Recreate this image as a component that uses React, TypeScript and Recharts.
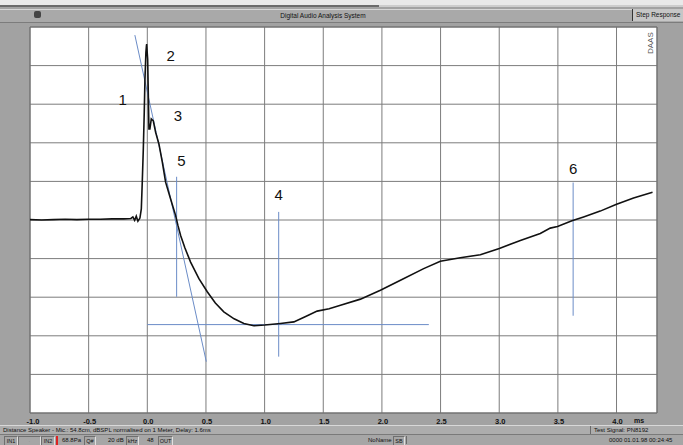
import React from 'react';
import {
  LineChart,
  Line,
  XAxis,
  YAxis,
  CartesianGrid,
  ReferenceLine,
  ReferenceArea,
  Scatter,
} from 'recharts';

// step response, time in ms vs level (grid divisions)
const timeMs = [
  -1.0, -0.9, -0.8, -0.7, -0.6, -0.5, -0.4, -0.3, -0.2, -0.14,
  -0.123, -0.108, -0.094, -0.08, -0.063,
  -0.051, -0.043, -0.034, -0.026, -0.02, -0.012, -0.006,
  0.003, 0.014, 0.022, 0.034, 0.051, 0.071, 0.099, 0.128, 0.156, 0.198, 0.241, 0.261, 0.284,
  0.32, 0.369, 0.44, 0.511, 0.58, 0.652, 0.74, 0.823, 0.908, 1.0, 1.135, 1.249, 1.35, 1.448,
  1.55, 1.647, 1.817, 1.987, 2.158, 2.356, 2.498, 2.668, 2.839, 3.001, 3.18, 3.35, 3.435,
  3.497, 3.62, 3.719, 3.861, 3.995, 4.145, 4.307,
];
const level = [
  0.01, 0.0, 0.01, 0.02, 0.01, 0.02, 0.02, 0.03, 0.03, 0.04,
  0.08, -0.01, 0.1, -0.03, 0.05,
  0.29, 0.98, 1.84, 2.79, 3.65, 4.34, 4.56,
  4.17, 2.36, 2.36, 2.62, 2.57, 2.27, 1.97, 1.5, 0.98, 0.55, 0.12, -0.14, -0.4,
  -0.72, -1.09, -1.52, -1.86, -2.15, -2.38, -2.56, -2.68, -2.74, -2.72, -2.68, -2.64, -2.5, -2.36,
  -2.3, -2.21, -2.05, -1.82, -1.56, -1.26, -1.07, -0.98, -0.9, -0.74, -0.53, -0.35, -0.21,
  -0.17, -0.02, 0.08, 0.23, 0.4, 0.57, 0.72,
];

const xTicks = [-1, -0.5, 0, 0.5, 1, 1.5, 2, 2.5, 3, 3.5, 4];
const xTickLabels = ['-1.0', '-0.5', '0.0', '0.5', '1.0', '1.5', '2.0', '2.5', '3.0', '3.5', '4.0'];
const yTicks = [-5, -4, -3, -2, -1, 0, 1, 2, 3, 4, 5];

// blue construction lines: [x1, y1, x2, y2]
const markerLines = [
  [-0.106, 4.79, 0.503, -3.67],
  [0.25, 1.12, 0.25, -1.99],
  [0.0, -2.71, 2.4, -2.71],
  [1.12, 0.21, 1.12, -3.54],
  [3.63, 0.97, 3.63, -2.48],
];

const markerNames = ['1', '2', '3', '4', '5', '6'];
const markerX = [-0.21, 0.2, 0.26, 1.12, 0.29, 3.63];
const markerY = [3.13, 4.27, 2.72, 0.65, 1.54, 1.33];

const data = timeMs.map((ms, i) => ({ ms, v: level[i] }));
const labelData = markerNames.map((name, i) => ({ ms: markerX[i], v: markerY[i], name }));

const ui = "'Liberation Sans', Arial, sans-serif";

const TickLabel = ({ x, y, payload }: any) => {
  const i = xTicks.indexOf(payload.value);
  return (
    <text x={x + (i === 0 ? 3 : 1)} y={y + 3} textAnchor="middle" fontSize={7.5} fontWeight="bold" fontFamily={ui} fill="#111">
      {xTickLabels[i]}
    </text>
  );
};

const MarkerText = ({ cx, cy, payload }: any) => (
  <text x={cx} y={cy} textAnchor="middle" dominantBaseline="central" fontSize={15} fontFamily={ui} fill="#111">
    {payload.name}
  </text>
);

const Box = ({ left, width, children, style }: any) => (
  <div
    style={{
      position: 'absolute',
      left,
      top: 1,
      width,
      height: 8,
      border: '1px solid #6f6f6f',
      borderRightColor: '#e0e0e0',
      borderBottomColor: '#e0e0e0',
      fontSize: 5.5,
      lineHeight: '8px',
      textAlign: 'center',
      overflow: 'hidden',
      ...style,
    }}
  >
    {children}
  </div>
);

const Txt = ({ left, children, style }: any) => (
  <div style={{ position: 'absolute', left, top: 1, fontSize: 6, lineHeight: '8px', whiteSpace: 'nowrap', ...style }}>
    {children}
  </div>
);

export default function App() {
  return (
    <div style={{ position: 'fixed', left: 0, top: 0, width: 683, height: 445, background: '#a2a2a2', fontFamily: ui, color: '#111', overflow: 'hidden' }}>
      {/* window header */}
      <div style={{ position: 'absolute', left: 0, top: 0, width: 683, height: 5, background: '#e9e9e9' }} />
      <div style={{ position: 'absolute', left: 0, top: 5, width: 379, height: 2, background: '#6a6a6a' }} />
      <div style={{ position: 'absolute', left: 379, top: 5, width: 304, height: 2, background: '#cdcdcd' }} />
      <div style={{ position: 'absolute', left: 0, top: 9, width: 683, height: 12, background: '#a9a9a9', borderTop: '1px solid #d6d6d6', borderBottom: '1px solid #7c7c7c' }} />
      <div style={{ position: 'absolute', left: 34, top: 11, width: 7, height: 7, borderRadius: 2, background: '#444' }} />
      <div style={{ position: 'absolute', left: 0, width: 646, top: 11, fontSize: 6.5, lineHeight: '9px', textAlign: 'center' }}>
        Digital Audio Analysis System
      </div>
      <div style={{ position: 'absolute', left: 632, top: 9, width: 51, height: 12, background: '#c6c6c6', borderLeft: '1px solid #333', fontSize: 6.5, lineHeight: '12px', paddingLeft: 3, whiteSpace: 'nowrap' }}>
        Step Response
      </div>

      <LineChart width={683} height={445} data={data} margin={{ top: 27, right: 26, bottom: 20, left: 30 }}>
        <CartesianGrid stroke="#7c7c7c" strokeWidth={1} fill="#ffffff" fillOpacity={1} />
        <XAxis
          type="number"
          dataKey="ms"
          domain={[-1, 4.345]}
          ticks={xTicks}
          allowDataOverflow
          axisLine={false}
          tickLine={false}
          height={12}
          interval={0}
          tick={<TickLabel />}
        />
        <YAxis type="number" domain={[-5, 5]} ticks={yTicks} allowDataOverflow hide width={0} />
        <ReferenceArea x1={-1} x2={4.345} y1={-5} y2={5} fill="none" stroke="#6e6e6e" strokeWidth={1} />
        {markerLines.map((s, i) => (
          <ReferenceLine
            key={i}
            segment={[{ x: s[0], y: s[1] }, { x: s[2], y: s[3] }]}
            stroke="#6b8cc7"
            strokeWidth={1}
            ifOverflow="visible"
          />
        ))}
        <Line type="linear" dataKey="v" stroke="#111111" strokeWidth={1.6} dot={false} isAnimationActive={false} />
        <Scatter data={labelData} dataKey="v" shape={<MarkerText />} isAnimationActive={false} />
      </LineChart>

      <div style={{ position: 'absolute', left: 646, top: 30, transform: 'rotate(-90deg)', transformOrigin: 'left top', fontSize: 8, color: '#555', whiteSpace: 'nowrap', translate: '0 24px' }}>
        DAAS
      </div>
      <div style={{ position: 'absolute', left: 634, top: 417, fontSize: 7, fontWeight: 'bold' }}>ms</div>

      {/* status line 1 */}
      <div style={{ position: 'absolute', left: 0, top: 425, width: 683, height: 10, background: '#adadad', borderTop: '1px solid #d8d8d8', borderBottom: '1px solid #7a7a7a', boxSizing: 'border-box' }}>
        <Txt left={3} style={{ top: 0 }}>Distance Speaker - Mic.: 54.8cm, dBSPL normalised on 1 Meter, Delay: 1.6ms</Txt>
        <div style={{ position: 'absolute', left: 590, top: 0, width: 93, height: 8, borderLeft: '1px solid #6a6a6a' }} />
        <Txt left={594} style={{ top: 0 }}>Test Signal: PN8192</Txt>
      </div>

      {/* status line 2 */}
      <div style={{ position: 'absolute', left: 0, top: 435, width: 683, height: 10, background: '#a6a6a6' }}>
        <Box left={4} width={12}>IN1</Box>
        <Box left={18} width={21} style={{ color: '#888' }}>·</Box>
        <Box left={41} width={12}>IN2</Box>
        <div style={{ position: 'absolute', left: 56, top: 1, width: 2, height: 9, background: '#d22' }} />
        <Txt left={62}>68.8Pa</Txt>
        <Box left={84} width={10}>Q#</Box>
        <Txt left={108}>20 dB</Txt>
        <Box left={126} width={11}>kHz</Box>
        <Txt left={147}>48</Txt>
        <Box left={158} width={13}>OUT</Box>
        <Txt left={368}>NoName</Txt>
        <Box left={393} width={10}>SB</Box>
        <div style={{ position: 'absolute', left: 406, top: 1, width: 200, height: 8, borderLeft: '1px solid #6a6a6a' }} />
        <Txt left={609}>0000 01.01.98 00:24:45</Txt>
      </div>
    </div>
  );
}
